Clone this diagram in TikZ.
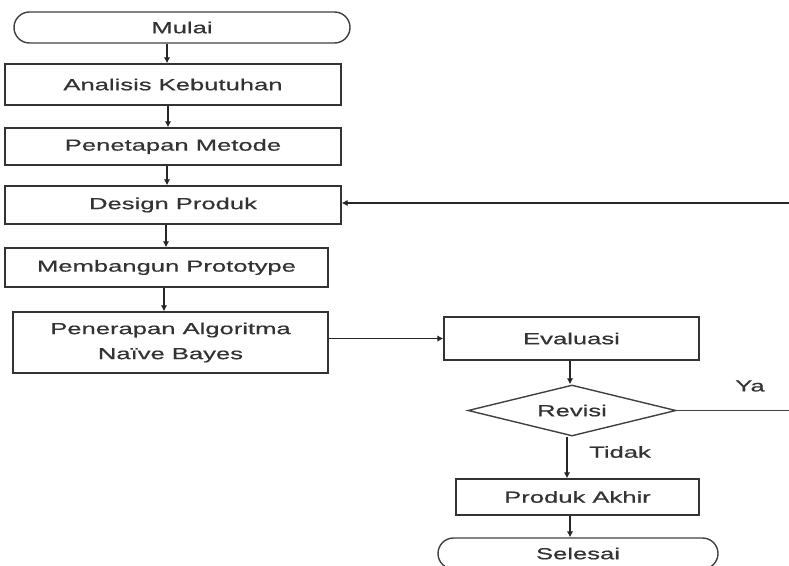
\documentclass[tikz,border=0pt]{standalone}
\usepackage{fontspec}
\setmainfont{Liberation Sans}[FakeStretch=1.6,FakeBold=0.6]
\usetikzlibrary{shapes.geometric,arrows.meta,calc}
\begin{document}
\begin{tikzpicture}[x=1pt,y=-1pt,
  every node/.style={font=\fontsize{16}{25}\selectfont, text=black!80},
  box/.style={draw=black!80, line width=1.4pt, rectangle, inner sep=0pt, align=center},
  term/.style={draw=black!75, line width=1.4pt, rectangle, rounded corners=15.5pt, inner sep=0pt},
  decision/.style={draw=black!75, line width=1.4pt, diamond, aspect=4, inner sep=0pt},
  arr/.style={draw=black!85, line width=1.4pt, -{Latex[length=6pt,width=6.5pt]}},
  ln/.style={draw=black!75, line width=1.4pt}]
\useasboundingbox (0,0) rectangle (789,565);
\node[term, minimum width=336pt, minimum height=31pt] (mulai) at (182,27.5) {Mulai};
\node[box, minimum width=336pt, minimum height=41pt] (analisis) at (173,84.5) {Analisis Kebutuhan};
\node[box, minimum width=336pt, minimum height=37pt] (penetapan) at (173,146.5) {Penetapan Metode};
\node[box, minimum width=336pt, minimum height=38pt] (design) at (173,205) {Design Produk};
\node[box, minimum width=323pt, minimum height=39pt] (membangun) at (166.5,267.5) {Membangun Prototype};
\node[box, minimum width=315pt, minimum height=61pt] (penerapan) at (170.5,342.5) {Penerapan Algoritma\\Naïve Bayes};
\node[box, minimum width=255pt, minimum height=43pt] (evaluasi) at (571.5,338.5) {Evaluasi};
\node[decision, minimum width=208pt, minimum height=51pt] (revisi) at (572,410.5) {Revisi};
\node[box, minimum width=243pt, minimum height=36pt] (produk) at (577.5,497) {Produk Akhir};
\node[term, minimum width=280pt, minimum height=31pt] (selesai) at (578,553.5) {Selesai};
\node (ya) at (750,386) {Ya};
\node (tidak) at (620,452) {Tidak};
\coordinate (yaend) at (789,410.5);
\coordinate (fbstart) at (789,203);
\coordinate (c1) at (167,0);
\coordinate (c2) at (168,0);
\coordinate (c3) at (166,0);
\coordinate (c4) at (164,0);
\coordinate (c5) at (567,0);
\coordinate (c6) at (570,0);
\draw[arr] (mulai.south -| c1) -- (analisis.north -| c1);
\draw[arr] (analisis.south -| c2) -- (penetapan.north -| c2);
\draw[arr] (penetapan.south -| c1) -- (design.north -| c1);
\draw[arr] (design.south -| c3) -- (membangun.north -| c3);
\draw[arr] (membangun.south -| c4) -- (penerapan.north -| c4);
\draw[arr] (penerapan.east |- evaluasi.west) -- (evaluasi.west);
\draw[arr] (evaluasi.south -| c6) -- (revisi.north -| c6);
\draw[arr] (revisi.south -| c5) -- (produk.north -| c5);
\draw[arr] (produk.south -| c6) -- (selesai.north -| c6);
\draw[ln] (revisi.east) -- (yaend);
\draw[arr] (fbstart) -- (design.east |- fbstart);
\end{tikzpicture}
\end{document}
